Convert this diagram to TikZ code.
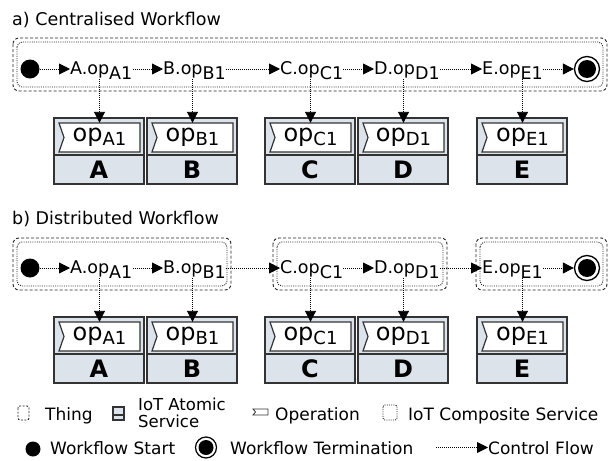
\documentclass[tikz,border=0pt]{standalone}
\usepackage{fontspec}
\setmainfont{DejaVu Sans}
\usetikzlibrary{arrows.meta}
\definecolor{svcfill}{RGB}{221,227,235}
\tikzset{
  x=1pt, y=-1pt,
  thing/.style={draw=black!85, line width=0.9pt, dash pattern=on 3pt off 2pt, rounded corners=6pt},
  comp/.style={draw=black!85, line width=0.9pt, dash pattern=on 1pt off 1.2pt, rounded corners=5pt},
  flow/.style={draw=black, line width=0.9pt, dash pattern=on 1pt off 1pt, -{Triangle[length=11pt,width=11pt]}},
  flowtext/.style={inner sep=0pt, anchor=base west, font=\fontsize{17.5}{17}\selectfont},
  svcbox/.style={draw=black!80, fill=svcfill, line width=1.2pt},
  opframe/.style={draw=black!80, fill=white, line width=1.2pt},
  optext/.style={inner sep=0pt, minimum width=81pt, minimum height=29pt},
  lbl/.style={font=\fontsize{24}{24}\selectfont\bfseries},
  startnode/.style={circle, fill=black, inner sep=0pt, minimum size=19pt},
  endnode/.style={circle, draw=black, line width=1.3pt, inner sep=0pt, minimum size=25pt},
  title/.style={inner sep=0pt, anchor=base west, font=\fontsize{17.5}{17}\selectfont},
  legtext/.style={inner sep=0pt, anchor=base west, font=\fontsize{17}{17}\selectfont, align=left},
}
% #1 name suffix, #2 cx, #3 top y, #4 letter
\newcommand\svc[4]{%
  \draw[svcbox] (#2-45,#3) rectangle (#2+45,#3+66);
  \draw[draw=black!80, line width=1.2pt] (#2-45,#3+37) -- (#2+45,#3+37);
  \draw[opframe] (#2-40,#3+5) -- (#2+41,#3+5) -- (#2+41,#3+34) -- (#2-40,#3+34) -- (#2-35,#3+19.5) -- cycle;
  \node[optext] (op#1) at (#2+0.5,#3+19.5) {\fontsize{24}{24}\selectfont op\lower4pt\hbox{\fontsize{18}{18}\selectfont #41}};
  \node[lbl] (lb#1) at (#2,#3+51.5) {#4};
}
\begin{document}
\begin{tikzpicture}
\useasboundingbox (0,0) rectangle (614,461);

% ---------------- a) Centralised
\node[title] (ta) at (12,25) {a) Centralised Workflow};
\draw[thing] (13,38) rectangle (607,91);
\draw[comp] (17,42) rectangle (603,87);

\node[startnode] (sa) at (30,69) {};
\node[flowtext] (fAa) at (70,74) {A.op\lower5pt\hbox{A1}};
\node[flowtext] (fBa) at (163,74) {B.op\lower5pt\hbox{B1}};
\node[flowtext] (fCa) at (280,74) {C.op\lower5pt\hbox{C1}};
\node[flowtext] (fDa) at (374,74) {D.op\lower5pt\hbox{D1}};
\node[flowtext] (fEa) at (482,74) {E.op\lower5pt\hbox{E1}};
\node[endnode] (ea) at (587,69) {};
\fill (ea.center) circle (9pt);

\draw[flow] (sa.east) -- (sa.east -| fAa.west);
\draw[flow] (fAa.east |- sa) -- (fBa.west |- sa);
\draw[flow] (fBa.east |- sa) -- (fCa.west |- sa);
\draw[flow] (fCa.east |- sa) -- (fDa.west |- sa);
\draw[flow] (fDa.east |- sa) -- (fEa.west |- sa);
\draw[flow] (fEa.east |- sa) -- (ea.west);

\svc{Aa}{99}{118}{A}
\svc{Ba}{192}{118}{B}
\svc{Ca}{310}{118}{C}
\svc{Da}{403}{118}{D}
\svc{Ea}{522}{118}{E}

\draw[flow] (opAa.north |- fAa.south) -- (opAa.north);
\draw[flow] (opBa.north |- fBa.south) -- (opBa.north);
\draw[flow] (opCa.north |- fCa.south) -- (opCa.north);
\draw[flow] (opDa.north |- fDa.south) -- (opDa.north);
\draw[flow] (opEa.north |- fEa.south) -- (opEa.north);

% ---------------- b) Distributed
\node[title] (tb) at (12,224) {b) Distributed Workflow};
\draw[thing] (13,238) rectangle (231,290);
\draw[comp] (17,242) rectangle (227,286);
\draw[thing] (273,238) rectangle (447,290);
\draw[comp] (277,242) rectangle (443,286);
\draw[thing] (476,238) rectangle (607,290);
\draw[comp] (480,242) rectangle (603,286);

\node[startnode] (sb) at (30,268) {};
\node[flowtext] (fAb) at (70,273) {A.op\lower5pt\hbox{A1}};
\node[flowtext] (fBb) at (163,273) {B.op\lower5pt\hbox{B1}};
\node[flowtext] (fCb) at (280,273) {C.op\lower5pt\hbox{C1}};
\node[flowtext] (fDb) at (374,273) {D.op\lower5pt\hbox{D1}};
\node[flowtext] (fEb) at (482,273) {E.op\lower5pt\hbox{E1}};
\node[endnode] (eb) at (587,268) {};
\fill (eb.center) circle (9pt);

\draw[flow] (sb.east) -- (sb.east -| fAb.west);
\draw[flow] (fAb.east |- sb) -- (fBb.west |- sb);
\draw[flow] (fBb.east |- sb) -- (fCb.west |- sb);
\draw[flow] (fCb.east |- sb) -- (fDb.west |- sb);
\draw[flow] (fDb.east |- sb) -- (fEb.west |- sb);
\draw[flow] (fEb.east |- sb) -- (eb.west);

\svc{Ab}{99}{317}{A}
\svc{Bb}{192}{317}{B}
\svc{Cb}{310}{317}{C}
\svc{Db}{403}{317}{D}
\svc{Eb}{522}{317}{E}

\draw[flow] (opAb.north |- fAb.south) -- (opAb.north);
\draw[flow] (opBb.north |- fBb.south) -- (opBb.north);
\draw[flow] (opCb.north |- fCb.south) -- (opCb.north);
\draw[flow] (opDb.north |- fDb.south) -- (opDb.north);
\draw[flow] (opEb.north |- fEb.south) -- (opEb.north);

% ---------------- legend
\draw[thing, rounded corners=2pt, line width=0.9pt, dash pattern=on 2pt off 1.5pt] (18,406) rectangle (29,420);
\node[legtext] (lthing) at (45,420) {Thing};
\draw[draw=black!80, fill=svcfill, line width=1.1pt] (113,407) rectangle (124,420);
\draw[draw=black!80, line width=1.1pt] (113,415) -- (124,415);
\node[legtext, anchor=west, font=\fontsize{16.5}{16.5}\selectfont] (latomic) at (138,413) {IoT Atomic\\Service};
\draw[draw=black!80, fill=white, line width=0.8pt] (253,409) -- (268,409) -- (268,415) -- (253,415) -- (255.5,412) -- cycle;
\node[legtext] (lop) at (275,420) {Operation};
\draw[comp, rounded corners=2pt, line width=0.9pt] (383,405) rectangle (397,420);
\node[legtext] (lcomp) at (408,420) {IoT Composite Service};

\node[circle, fill=black, inner sep=0pt, minimum size=15pt] (lstart) at (33,449) {};
\node[legtext] (lstarttxt) at (50,454) {Workflow Start};
\node[circle, draw=black, line width=1.2pt, inner sep=0pt, minimum size=21pt] (lend) at (206,447.5) {};
\fill (lend.center) circle (7.5pt);
\node[legtext] (lendtxt) at (230,454) {Workflow Termination};
\coordinate (lcf) at (436,447.5);
\node[legtext] (lcftxt) at (488,454) {Control Flow};
\draw[flow] (lcf) -- (lcf -| lcftxt.west);
\end{tikzpicture}
\end{document}
